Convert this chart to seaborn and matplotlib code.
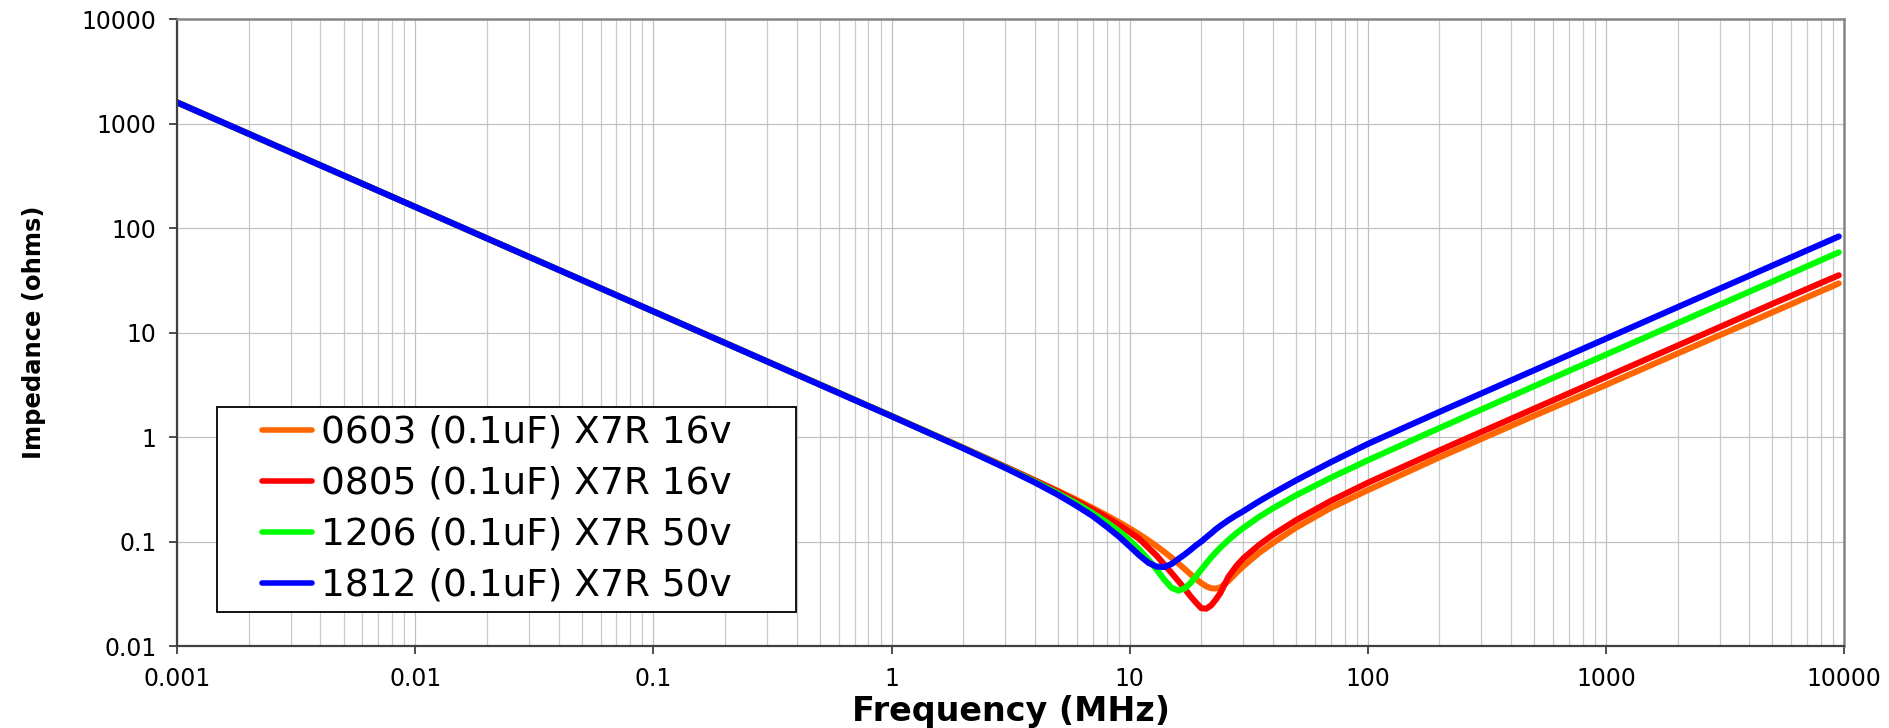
import numpy as np
import pandas as pd
import matplotlib
matplotlib.use("Agg")
import matplotlib.pyplot as plt
import seaborn as sns
from matplotlib.ticker import LogLocator, NullFormatter
from matplotlib.legend_handler import HandlerLine2D

# ---- data ----
freq_mhz = [0.001, 0.01, 0.1, 1, 2, 3, 4, 5, 6, 7, 8, 9, 10, 11, 12, 13, 14, 15,
            16, 17, 18, 19, 20, 21, 22, 23, 24, 26, 28, 30, 35, 40, 50, 70, 100,
            200, 500, 1000, 2000, 5000, 9500]

z_0603 = [1592, 159.2, 15.92, 1.589, 0.790, 0.521, 0.386, 0.305, 0.250, 0.209,
          0.178, 0.1535, 0.1335, 0.1167, 0.1024, 0.090, 0.0793, 0.070, 0.0618,
          0.0547, 0.0487, 0.0437, 0.0400, 0.0372, 0.0357, 0.0355, 0.0362, 0.042,
          0.050, 0.058, 0.078, 0.097, 0.136, 0.21, 0.31, 0.64, 1.60, 3.15, 6.3,
          15.6, 29.5]

z_0805 = [1592, 159.2, 15.92, 1.588, 0.7885, 0.519, 0.383, 0.300, 0.243, 0.202,
          0.170, 0.1445, 0.1235, 0.1055, 0.087, 0.073, 0.060, 0.050, 0.042,
          0.0355, 0.030, 0.026, 0.023, 0.0228, 0.0245, 0.0278, 0.032, 0.046,
          0.058, 0.069, 0.093, 0.116, 0.160, 0.245, 0.365, 0.745, 1.87, 3.75,
          7.5, 18.8, 35.3]

z_1206 = [1592, 159.2, 15.92, 1.586, 0.784, 0.512, 0.375, 0.289, 0.231, 0.187,
          0.153, 0.126, 0.1029, 0.0836, 0.0670, 0.0535, 0.0430, 0.0360, 0.0340,
          0.0355, 0.040, 0.0465, 0.054, 0.062, 0.0705, 0.0788, 0.0871, 0.1035,
          0.1195, 0.135, 0.1724, 0.2083, 0.277, 0.408, 0.599, 1.22, 3.07, 6.14,
          12.3, 30.7, 58.5]

z_1812 = [1592, 159.2, 15.92, 1.58, 0.780, 0.507, 0.367, 0.280, 0.219, 0.175,
          0.139, 0.112, 0.090, 0.0735, 0.0625, 0.0575, 0.057, 0.061, 0.068,
          0.075, 0.083, 0.092, 0.100, 0.110, 0.120, 0.131, 0.141, 0.160, 0.178,
          0.195, 0.243, 0.290, 0.385, 0.575, 0.859, 1.74, 4.36, 8.73, 17.5,
          43.7, 83]

series_names = ["0603 (0.1uF) X7R 16v", "0805 (0.1uF) X7R 16v",
                "1206 (0.1uF) X7R 50v", "1812 (0.1uF) X7R 50v"]
series_colors = ["#FF6600", "#FF0000", "#00FF00", "#0000FF"]

x_ticks = [0.001, 0.01, 0.1, 1, 10, 100, 1000, 10000]
x_tick_labels = ["0.001", "0.01", "0.1", "1", "10", "100", "1000", "10000"]
y_ticks = [0.01, 0.1, 1, 10, 100, 1000, 10000]
y_tick_labels = ["0.01", "0.1", "1", "10", "100", "1000", "10000"]

# ---- long-form table ----
frames = []
for name, vals in zip(series_names, [z_0603, z_0805, z_1206, z_1812]):
    frames.append(pd.DataFrame({"freq": freq_mhz, "Z": vals, "series": name}))
df = pd.concat(frames, ignore_index=True)

sns.set_theme(style="white")
plt.rcParams["font.family"] = ["DejaVu Sans"]

fig = plt.figure(figsize=(18.9, 7.28), dpi=100)
ax = fig.add_axes([0.0937, 0.1126, 0.882, 0.8613])

sns.lineplot(data=df, x="freq", y="Z", hue="series", hue_order=series_names,
             palette=dict(zip(series_names, series_colors)), linewidth=4.4,
             sort=False, estimator=None, legend=False, ax=ax)
for ln in ax.lines:
    ln.set_solid_capstyle("round")
    ln.set_solid_joinstyle("round")

ax.set_xscale("log")
ax.set_yscale("log")
ax.set_xlim(0.001, 10000)
ax.set_ylim(0.01, 10000)

ax.set_xticks(x_ticks)
ax.set_xticklabels(x_tick_labels)
ax.set_yticks(y_ticks)
ax.set_yticklabels(y_tick_labels)
ax.xaxis.set_minor_locator(LogLocator(base=10, subs=np.arange(2, 10), numticks=100))
ax.xaxis.set_minor_formatter(NullFormatter())
ax.yaxis.set_minor_locator(plt.NullLocator())

ax.grid(True, which="major", axis="both", color="#c0c0c0", linewidth=0.9)
ax.grid(True, which="minor", axis="x", color="#c8c8c8", linewidth=0.9)
ax.set_axisbelow(True)

ax.tick_params(axis="both", which="major", direction="out", length=6, width=1.3,
               color="#404040", labelsize=17, pad=9, labelcolor="black")
ax.tick_params(axis="x", which="minor", length=0)
ax.tick_params(axis="x", which="major", bottom=True)
ax.tick_params(axis="y", which="major", left=True)

for side in ["left", "bottom"]:
    ax.spines[side].set_color("#404040")
    ax.spines[side].set_linewidth(1.6)
for side in ["top", "right"]:
    ax.spines[side].set_color("#858585")
    ax.spines[side].set_linewidth(1.8)

ax.set_xlabel("Frequency (MHz)", fontsize=24, fontweight="bold", va="center",
              color="black")
ax.xaxis.set_label_coords(0.5, -0.104)
ax.set_ylabel("Impedance (ohms)", fontsize=17.5, fontweight="bold", va="center",
              color="black")
ax.yaxis.set_label_coords(-0.0858, 0.5)


class ShiftedLine(HandlerLine2D):
    """Legend line drawn on the right part of the handle box only."""
    def get_xdata(self, legend, xdescent, ydescent, width, height, fontsize):
        x0 = -xdescent + 0.42 * width
        x1 = -xdescent + width
        return np.array([x0, x1]), np.array([(x0 + x1) / 2])


handles = ax.lines[:4]
leg = ax.legend(handles, series_names, loc="lower left",
                bbox_to_anchor=(0.024, 0.054, 0.347, 0.3), mode="expand",
                borderaxespad=0, fontsize=27, frameon=True, fancybox=False,
                edgecolor="black", framealpha=1, handlelength=2.3,
                handletextpad=0.25, labelspacing=0.40, borderpad=0.22,
                handler_map={plt.Line2D: ShiftedLine()})
leg.get_frame().set_linewidth(1.3)
for lh in leg.get_lines():
    lh.set_linewidth(4.0)
for t in leg.get_texts():
    t.set_color("black")

fig.savefig("out.png", dpi=100)
